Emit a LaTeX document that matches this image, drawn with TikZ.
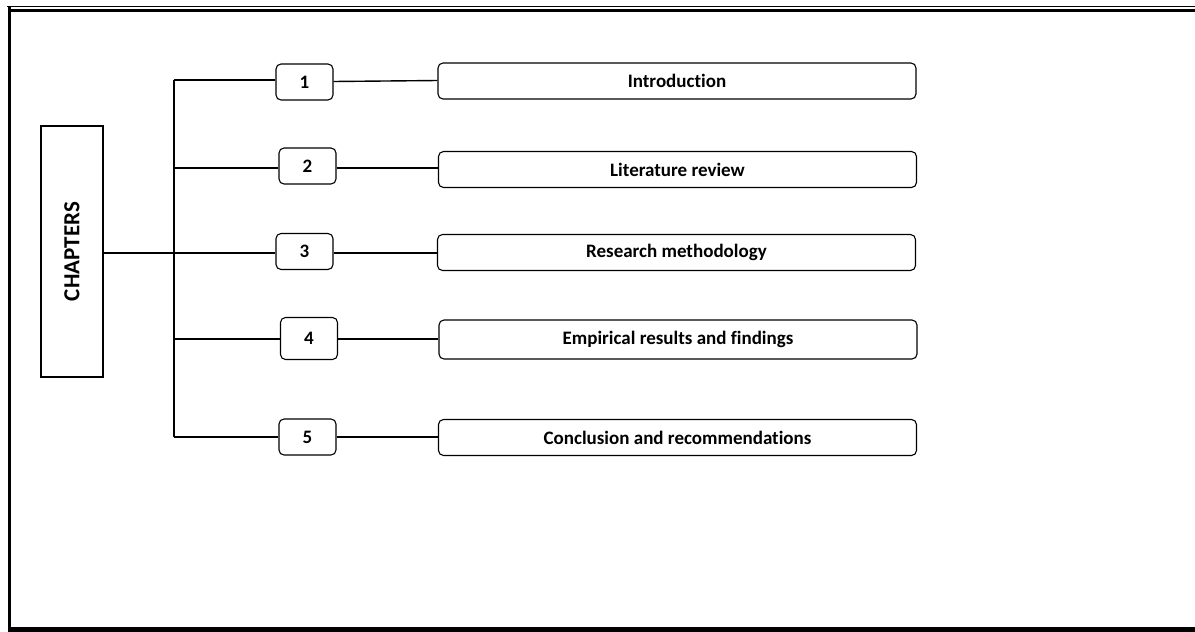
\documentclass[tikz,border=0pt]{standalone}
\usepackage{fontspec}
\setmainfont{Carlito}[Ligatures=NoCommon]
\begin{document}
\begin{tikzpicture}[x=1pt,y=-1pt,
  numbox/.style={draw,line width=1.1pt,rounded corners=5pt,minimum width=57pt,minimum height=36pt,inner sep=0pt,font=\fontsize{19}{21}\selectfont\bfseries},
  titlebox/.style={draw,line width=1.1pt,rounded corners=5pt,minimum width=478pt,minimum height=36pt,inner sep=0pt,font=\fontsize{19}{21}\selectfont\bfseries},
  link/.style={line width=1.4pt}]
\useasboundingbox (0,0) rectangle (1195,632);
% page frame: thin outer rule, thick inner rule
\draw[line width=1.2pt] (7,6.5) -- (1195,6.5);
\draw[line width=3pt] (8,10) -- (1195,10);
\draw[line width=3.6pt] (9.3,6) -- (9.3,630);
\draw[line width=3pt] (8,628) -- (1195,628);
\draw[line width=1.2pt] (8,631) -- (1195,631);

% root box
\node[draw,line width=1.1pt,minimum width=62pt,minimum height=251pt,inner sep=0pt] (root) at (72,251.5)
  {\rotatebox{90}{\fontsize{23}{25}\selectfont\bfseries CHAPTERS}};

% chapter numbers
\node[numbox] (n1) at (304.5,82) {1};
\node[numbox] (n2) at (307.5,166) {2};
\node[numbox] (n3) at (304.5,251.5) {3};
\node[numbox,minimum height=42pt] (n4) at (309,338.5) {4};
\node[numbox] (n5) at (307.5,437) {5};

% chapter titles
\node[titlebox] (t1) at (677,81) {Introduction};
\node[titlebox] (t2) at (677.5,169.5) {Literature review};
\node[titlebox] (t3) at (676.5,252.5) {Research methodology};
\node[titlebox,minimum height=39pt] (t4) at (678,339.5) {Empirical results and findings};
\node[titlebox] (t5) at (677.5,437.5) {Conclusion and recommendations};

% spine
\coordinate (top) at (174,80);
\coordinate (bot) at (174,437);
\draw[link] (top) -- (bot);
\draw[link] (root.east |- 0,253) -- (bot |- 0,253);

% branches to the numbers
\draw[link] (top) -- (n1.west |- top);
\draw[link] (bot |- 0,168) -- (n2.west |- 0,168);
\draw[link] (bot |- 0,253) -- (n3.west |- 0,253);
\draw[link] (bot |- 0,339) -- (n4.west |- 0,339);
\draw[link] (bot) -- (n5.west |- bot);

% numbers to titles
\draw[link] (n1.east |- 0,81.5) -- (t1.west |- 0,80.5);
\draw[link] (n2.east |- 0,168) -- (t2.west |- 0,168);
\draw[link] (n3.east |- 0,253) -- (t3.west |- 0,253);
\draw[link] (n4.east |- 0,339) -- (t4.west |- 0,339);
\draw[link] (n5.east |- 0,437) -- (t5.west |- 0,437);
\end{tikzpicture}
\end{document}
